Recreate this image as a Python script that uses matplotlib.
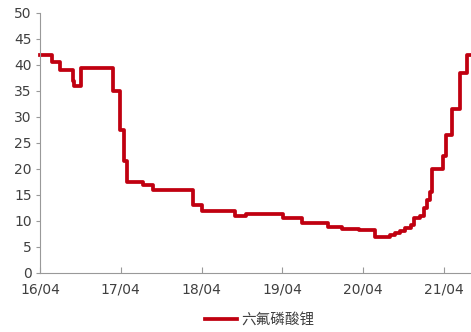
import matplotlib
matplotlib.use("Agg")
import matplotlib.pyplot as plt
import matplotlib.dates as mdates
import pandas as pd

plt.rcParams['font.family'] = ['DejaVu Sans']

dates = ["2016-04-01", "2016-05-25", "2016-07-01", "2016-08-26", "2016-09-02",
         "2016-10-04", "2017-02-25", "2017-03-28", "2017-04-15", "2017-05-01",
         "2017-07-10", "2017-08-25", "2018-02-20", "2018-04-01", "2018-09-01",
         "2018-10-20", "2019-04-03", "2019-07-01", "2019-10-25", "2019-12-28",
         "2020-03-15", "2020-05-25", "2020-08-01", "2020-08-22", "2020-09-15",
         "2020-10-06", "2020-11-01", "2020-11-15", "2020-12-12", "2021-01-01",
         "2021-01-15", "2021-01-28", "2021-02-06", "2021-03-28", "2021-04-10",
         "2021-05-06", "2021-06-12", "2021-07-13", "2021-08-01"]
prices = [42, 40.5, 39, 37, 36,
          39.5, 35, 27.5, 21.5, 17.5,
          17, 16, 13, 12, 11,
          11.3, 10.5, 9.6, 8.8, 8.5,
          8.3, 7.0, 7.3, 7.7, 8.1,
          8.7, 9.2, 10.5, 11, 12.5,
          14, 15.5, 20, 22.5, 26.5,
          31.5, 38.5, 42, 42]
series_name = "六氟磷酸锂"
tick_dates = ["2016-04-01", "2017-04-01", "2018-04-01", "2019-04-01", "2020-04-01", "2021-04-01"]
tick_labels = ["16/04", "17/04", "18/04", "19/04", "20/04", "21/04"]
y_ticks = list(range(0, 55, 5))

x = pd.to_datetime(dates)

fig = plt.figure(figsize=(4.71, 3.32), dpi=100)
ax = fig.add_axes([40/471, 59/332, 431/471, 260/332])
line, = ax.plot(x, prices, color="#C00010", lw=2.7, drawstyle="steps-post",
                solid_joinstyle="round", label=series_name)
ax.set_xlim(pd.Timestamp("2016-04-01"), pd.Timestamp("2021-08-01"))
ax.set_ylim(0, 50)
ax.set_yticks(y_ticks)
ax.set_xticks(pd.to_datetime(tick_dates))
ax.set_xticklabels(tick_labels)
for s in ["top", "right"]:
    ax.spines[s].set_visible(False)
for s in ["left", "bottom"]:
    ax.spines[s].set_color("#999999")
    ax.spines[s].set_linewidth(0.8)
ax.tick_params(axis="y", direction="out", length=3, color="#999999",
               labelsize=10, labelcolor="#404040", pad=3)
ax.tick_params(axis="x", direction="in", length=4, color="#999999",
               labelsize=10, labelcolor="#404040", pad=7)
line.set_clip_on(False)

leg = fig.legend(handles=[line], labels=[series_name], loc="center",
                 bbox_to_anchor=(260/471, 1 - 320/332), frameon=False,
                 handlelength=2.2, handletextpad=0.3,
                 prop={"family": ["Noto Sans CJK SC", "DejaVu Sans"], "size": 10.5})
for t in leg.get_texts():
    t.set_color("#404040")

fig.savefig("out.png", dpi=100)
